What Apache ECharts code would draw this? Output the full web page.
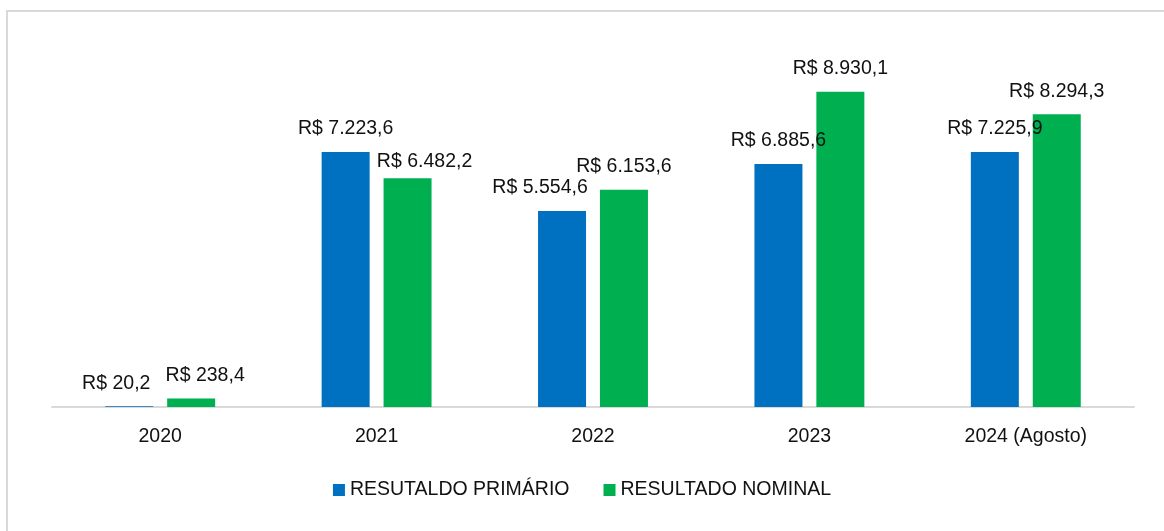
<!DOCTYPE html>
<html>
<head>
<meta charset="utf-8">
<script src="https://cdn.jsdelivr.net/npm/echarts@6/dist/echarts.min.js"></script>
<style>
  html, body { margin: 0; padding: 0; background: #fff; }
  #chart { width: 1164px; height: 531px; }
</style>
</head>
<body>
<div id="chart"></div>
<script>
// dados
var anos = ['2020', '2021', '2022', '2023', '2024 (Agosto)']
var resultadoPrimario = [20.2, 7223.6, 5554.6, 6885.6, 7225.9]
var resultadoNominal = [238.4, 6482.2, 6153.6, 8930.1, 8294.3]

// deslocamento dos rótulos (como o Excel afastou os que se sobrepunham)
var shiftPrim = [[-13, 0], [0, 0], [-22, 0], [0, 0], [0, 0]]
var shiftNom = [[14, 0], [17, 6], [0, 0], [0, 0], [0, 0]]

function brl(v) {
  var parts = v.toFixed(1).split('.')
  var inteiro = parts[0].replace(/\B(?=(\d{3})+(?!\d))/g, '.')
  return 'R$ ' + inteiro + ',' + parts[1]
}

function buildData(values, shifts) {
  return values.map(function (v, i) {
    return { value: v, label: { offset: shifts[i] } }
  })
}

var fontFam = '"Liberation Sans", Arial, sans-serif'
var fs = 19.5

var chart = echarts.init(document.getElementById('chart'))
chart.setOption({
  animation: false,
  textStyle: { fontFamily: fontFam },
  graphic: [{
    type: 'rect',
    silent: true,
    shape: { x: 7, y: 11, width: 1200, height: 600 },
    style: { fill: 'none', stroke: '#d9d9d9', lineWidth: 2 }
  }],
  grid: { left: 52, right: 30, top: 54, bottom: 124 },
  legend: {
    left: 'center',
    top: 475,
    icon: 'rect',
    itemWidth: 12,
    itemHeight: 12,
    itemGap: 34,
    textStyle: { fontSize: fs, color: '#111', fontFamily: fontFam },
    data: ['RESUTALDO PRIMÁRIO', 'RESULTADO NOMINAL']
  },
  xAxis: {
    type: 'category',
    data: anos,
    axisLine: { lineStyle: { color: '#d9d9d9', width: 2 } },
    axisTick: { show: false },
    axisLabel: { fontSize: fs, color: '#111', margin: 20, fontFamily: fontFam }
  },
  yAxis: {
    type: 'value',
    min: 0,
    max: 10000,
    show: false,
    splitLine: { show: false }
  },
  series: [
    {
      name: 'RESUTALDO PRIMÁRIO',
      type: 'bar',
      barWidth: 48,
      barGap: '29%',
      itemStyle: { color: '#0070C0' },
      label: {
        show: true,
        position: 'top',
        distance: 13,
        fontSize: fs,
        color: '#111',
        fontFamily: fontFam,
        formatter: function (p) { return brl(p.value) }
      },
      data: buildData(resultadoPrimario, shiftPrim)
    },
    {
      name: 'RESULTADO NOMINAL',
      type: 'bar',
      barWidth: 48,
      barGap: '29%',
      itemStyle: { color: '#00B050' },
      label: {
        show: true,
        position: 'top',
        distance: 13,
        fontSize: fs,
        color: '#111',
        fontFamily: fontFam,
        formatter: function (p) { return brl(p.value) }
      },
      data: buildData(resultadoNominal, shiftNom)
    }
  ]
})
</script>
</body>
</html>
